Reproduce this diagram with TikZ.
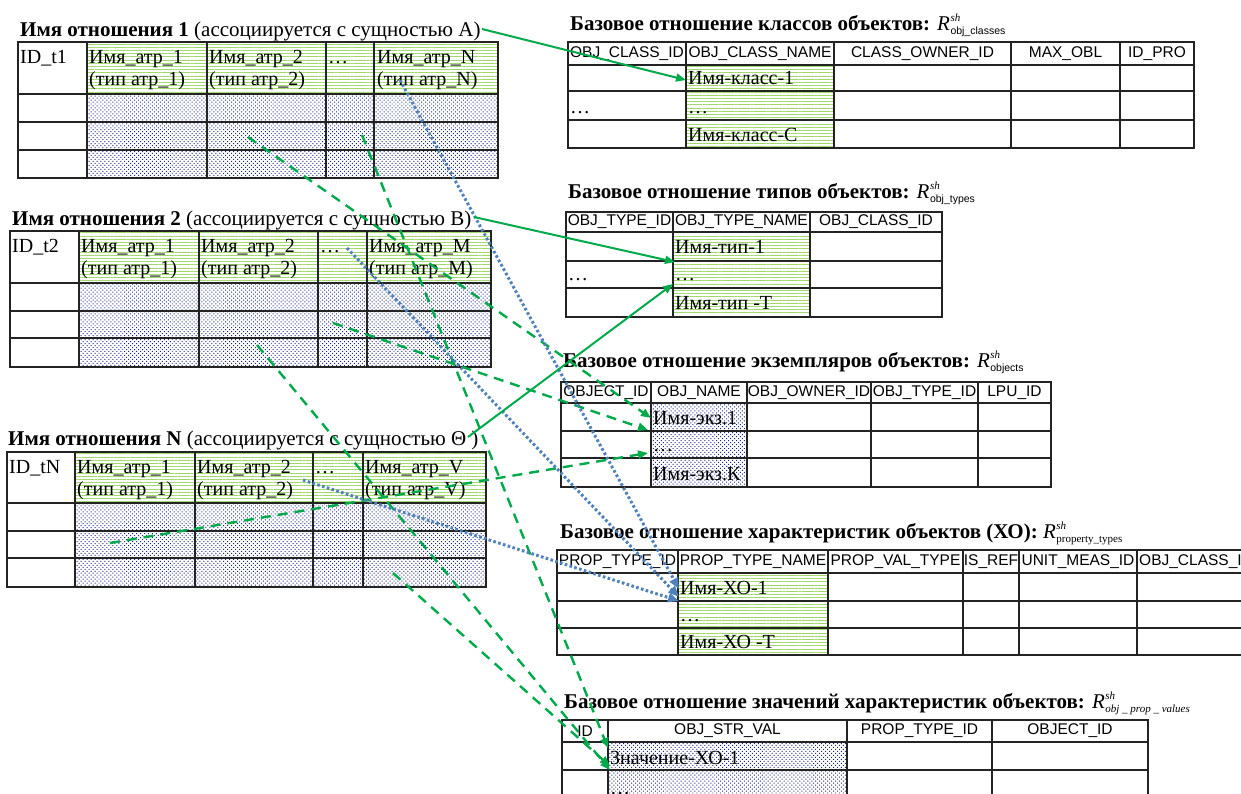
\documentclass[tikz,border=0pt]{standalone}
\usepackage{fontspec}
\setmainfont{Liberation Serif}
\setsansfont{Liberation Sans}
\usepackage{graphicx}
\usetikzlibrary{arrows.meta,patterns.meta}
\definecolor{stripegreen}{RGB}{160,216,105}
\definecolor{dotblue}{RGB}{30,40,120}
\definecolor{arrgreen}{RGB}{0,170,75}
\definecolor{arrblue}{RGB}{79,129,189}
\definecolor{gridc}{RGB}{35,35,35}
\tikzset{
 gridline/.style={line width=1.4pt, draw=gridc, line cap=rect},
 stripes/.style={pattern={Lines[angle=0,distance=3.2pt,line width=1pt]}, pattern color=stripegreen},
 dotsfill/.style={pattern={Dots[angle=45,distance=2.8pt,radius=0.7pt]}, pattern color=dotblue},
 lbl/.style={inner sep=0pt, anchor=base west, font=\fontsize{20}{22}\selectfont},
 ttl/.style={inner sep=0pt, anchor=base west, font=\fontsize{21}{24}\selectfont},
 hdr/.style={inner sep=0pt, anchor=center, font=\sffamily\fontsize{15.5}{17}\selectfont},
 solidarrow/.style={draw=arrgreen, line width=2pt, -{Triangle[length=10pt,width=8pt]}, arrgreen},
 dasharrow/.style={draw=arrgreen, line width=2.4pt, dash pattern=on 10pt off 7pt, -{Triangle[length=10pt,width=8pt]}, arrgreen},
 dotarrow/.style={draw=arrblue, line width=3pt, dash pattern=on 2.6pt off 2.4pt, -{Triangle[length=11pt,width=9pt]}, arrblue},
}
\newcommand\mygrid[6]{%
 \foreach \xx in {#1} {\draw[gridline] (\xx,#5) -- (\xx,#6);}%
 \foreach \yy in {#2} {\draw[gridline] (#3,\yy) -- (#4,\yy);}%
}
\newcommand\Rsans[1]{{\itshape R}\kern0.5pt\rlap{\raisebox{9pt}{\fontsize{11}{11}\selectfont\itshape sh}}\raisebox{-4.5pt}{\fontsize{10.5}{11}\selectfont\sffamily #1}}
\newcommand\Rserif[1]{{\itshape R}\kern0.5pt\rlap{\raisebox{9pt}{\fontsize{11}{11}\selectfont\itshape sh}}\raisebox{-4.5pt}{\fontsize{11}{11}\selectfont #1}}
\newcommand\Rital[1]{{\itshape R}\kern0.5pt\rlap{\raisebox{9pt}{\fontsize{11}{11}\selectfont\itshape sh}}\raisebox{-4.5pt}{\fontsize{11}{11}\selectfont\itshape #1}}
\begin{document}
\begin{tikzpicture}[x=1pt,y=-1pt]
\useasboundingbox (0,0) rectangle (1241,793);
\clip (0,0) rectangle (1241,793);
\fill[white] (0,0) rectangle (1241,793);

% ---------- Table 1 ----------
\fill[stripes] (87,42) rectangle (498,94);
\fill[dotsfill] (87,94) rectangle (498,178);
\mygrid{18,87,207,326,374,498}{42,94,122,150,178}{18}{498}{42}{178}
\node[ttl] (t1title) at (20,36) {\textbf{Имя отношения 1} (ассоциируется с сущностью А)};
\node[lbl] (t1id) at (20,63) {ID\_t1};
\node[lbl] (t1a1) at (89,63) {Имя\_атр\_1};
\node[lbl] (t1b1) at (89,85) {(тип атр\_1)};
\node[lbl] (t1a2) at (209,63) {Имя\_атр\_2};
\node[lbl] (t1b2) at (209,85) {(тип атр\_2)};
\node[lbl] (t1dots) at (328,63) {…};
\node[lbl] (t1aN) at (377,63) {Имя\_атр\_N};
\node[lbl] (t1bN) at (377,85) {(тип атр\_N)};

% ---------- Table 2 ----------
\fill[stripes] (79,231) rectangle (491,283);
\fill[dotsfill] (79,283) rectangle (491,367);
\mygrid{10,79,199,318,367,491}{231,283,311,338,367}{10}{491}{231}{367}
\node[ttl] (t2title) at (12,225) {\textbf{Имя отношения 2} (ассоциируется с сущностью В)};
\node[lbl] (t2id) at (12,252) {ID\_t2};
\node[lbl] (t2a1) at (81,252) {Имя\_атр\_1};
\node[lbl] (t2b1) at (81,274) {(тип атр\_1)};
\node[lbl] (t2a2) at (201,252) {Имя\_атр\_2};
\node[lbl] (t2b2) at (201,274) {(тип атр\_2)};
\node[lbl] (t2dots) at (320,252) {…};
\node[lbl] (t2aM) at (369,252) {Имя\_атр\_M};
\node[lbl] (t2bM) at (369,274) {(тип атр\_M)};

% ---------- Table N ----------
\fill[stripes] (75,452) rectangle (486,503);
\fill[dotsfill] (75,503) rectangle (486,587);
\mygrid{7,75,195,313,363,486}{452,503,531,558,587}{7}{486}{452}{587}
\node[ttl] (tNtitle) at (8,445) {\textbf{Имя отношения N} (ассоциируется с сущностью Θ )};
\node[lbl] (tNid) at (9,473) {ID\_tN};
\node[lbl] (tNa1) at (77,473) {Имя\_атр\_1};
\node[lbl] (tNb1) at (77,495) {(тип атр\_1)};
\node[lbl] (tNa2) at (197,473) {Имя\_атр\_2};
\node[lbl] (tNb2) at (197,495) {(тип атр\_2)};
\node[lbl] (tNdots) at (315,473) {…};
\node[lbl] (tNaV) at (365,473) {Имя\_атр\_V};
\node[lbl] (tNbV) at (365,495) {(тип атр\_V)};

% ---------- R1 obj_classes ----------
\fill[stripes] (686,65) rectangle (834,148);
\mygrid{568,686,834,1011,1120,1194}{42,65,91,120,148}{568}{1194}{42}{148}
\node[ttl] (r1title) at (570,30) {\textbf{Базовое отношение классов объектов:} \Rsans{obj\_classes}};
\node[hdr] (r1h1) at (627,54) {OBJ\_CLASS\_ID};
\node[hdr] (r1h2) at (760,54) {OBJ\_CLASS\_NAME};
\node[hdr] (r1h3) at (922.5,54) {CLASS\_OWNER\_ID};
\node[hdr] (r1h4) at (1065.5,54) {MAX\_OBL};
\node[hdr] (r1h5) at (1157,54) {ID\_PRO};
\node[lbl] (r1c1) at (688,84) {Имя-класс-1};
\node[lbl] (r1c2) at (688,113) {…};
\node[lbl] (r1c3) at (688,141) {Имя-класс-С};
\node[lbl] (r1d) at (570,113) {…};

% ---------- R2 obj_types ----------
\fill[stripes] (673,232) rectangle (810,317);
\mygrid{566,673,810,942}{212,232,261,288,317}{566}{942}{212}{317}
\node[ttl] (r2title) at (568,198) {\textbf{Базовое отношение типов объектов:} \Rsans{obj\_types}};
\node[hdr] (r2h1) at (619.5,222) {OBJ\_TYPE\_ID};
\node[hdr] (r2h2) at (741.5,222) {OBJ\_TYPE\_NAME};
\node[hdr] (r2h3) at (876,222) {OBJ\_CLASS\_ID};
\node[lbl] (r2c1) at (675,253) {Имя-тип-1};
\node[lbl] (r2c2) at (675,280) {…};
\node[lbl] (r2c3) at (675,309) {Имя-тип -Т};
\node[lbl] (r2d) at (568,280) {…};

% ---------- R3 objects ----------
\fill[dotsfill] (651,403) rectangle (747,487);
\mygrid{561,651,747,871,978,1051}{382,403,431,458,487}{561}{1051}{382}{487}
\node[ttl] (r3title) at (563,367) {\textbf{Базовое отношение экземпляров объектов:} \Rsans{objects}};
\node[hdr] (r3h1) at (606,392.5) {OBJECT\_ID};
\node[hdr] (r3h2) at (699,392.5) {OBJ\_NAME};
\node[hdr] (r3h3) at (809,392.5) {OBJ\_OWNER\_ID};
\node[hdr] (r3h4) at (924.5,392.5) {OBJ\_TYPE\_ID};
\node[hdr] (r3h5) at (1014.5,392.5) {LPU\_ID};
\node[lbl] (r3c1) at (653,424) {Имя-экз.1};
\node[lbl] (r3c2) at (653,451) {…};
\node[lbl] (r3c3) at (653,480) {Имя-экз.К};

% ---------- R4 property_types ----------
\fill[stripes] (678,573) rectangle (828,655);
\mygrid{557,678,828,963,1019,1137}{550,573,601,628,655}{557}{1260}{550}{655}
\node[ttl] (r4title) at (560,538) {\textbf{Базовое отношение характеристик объектов (ХО):} \Rserif{property\_types}};
\node[hdr] (r4h1) at (617.5,561.5) {PROP\_TYPE\_ID};
\node[hdr] (r4h2) at (753,561.5) {PROP\_TYPE\_NAME};
\node[hdr] (r4h3) at (895.5,561.5) {PROP\_VAL\_TYPE};
\node[hdr] (r4h4) at (991,561.5) {IS\_REF};
\node[hdr] (r4h5) at (1078,561.5) {UNIT\_MEAS\_ID};
\node[hdr,anchor=west] (r4h6) at (1139,561.5) {OBJ\_CLASS\_ID};
\node[lbl] (r4c1) at (680,594) {Имя-ХО-1};
\node[lbl] (r4c2) at (680,621) {…};
\node[lbl] (r4c3) at (680,648) {Имя-ХО -Т};

% ---------- R5 obj_prop_values ----------
\fill[dotsfill] (608,742) rectangle (847,800);
\mygrid{562,608,847,992,1148}{720,742,770}{562}{1148}{720}{800}
\node[ttl] (r5title) at (564,708) {\textbf{Базовое отношение значений характеристик объектов:} \Rital{obj \_ prop \_ values}};
\node[hdr] (r5h1) at (585,731) {ID};
\node[hdr] (r5h2) at (727.5,731) {OBJ\_STR\_VAL};
\node[hdr] (r5h3) at (919.5,731) {PROP\_TYPE\_ID};
\node[hdr] (r5h4) at (1070,731) {OBJECT\_ID};
\node[lbl] (r5c1) at (610,764) {Значение-ХО-1};
\node[lbl] (r5c2) at (610,794) {…};

% ---------- connector end points ----------
\coordinate (s1) at (482,29);   \coordinate (e1) at (686,80);
\coordinate (s2) at (474,217);  \coordinate (e2) at (675,262);
\coordinate (s3) at (468,437);  \coordinate (e3) at (673,284);
\coordinate (d1s) at (248,137); \coordinate (d1e) at (651,418);
\coordinate (d2s) at (362,135); \coordinate (d2e) at (608,748);
\coordinate (d3s) at (333,323); \coordinate (d3e) at (648,430);
\coordinate (d4s) at (257,345); \coordinate (d4e) at (610,770);
\coordinate (d5s) at (110,543); \coordinate (d5e) at (648,453);
\coordinate (d6s) at (393,573); \coordinate (d6e) at (610,766);
\coordinate (b1s) at (400,80);  \coordinate (b1e) at (679,589);
\coordinate (b2s) at (347,248); \coordinate (b2e) at (679,597);
\coordinate (b3s) at (303,480); \coordinate (b3e) at (679,601);

% ---------- connectors ----------
\draw[dasharrow] (d1s) -- (d1e);
\draw[dasharrow] (d2s) -- (d2e);
\draw[dasharrow] (d3s) -- (d3e);
\draw[dasharrow] (d4s) -- (d4e);
\draw[dasharrow] (d5s) -- (d5e);
\draw[dasharrow] (d6s) -- (d6e);
\draw[dotarrow] (b1s) -- (b1e);
\draw[dotarrow] (b2s) -- (b2e);
\draw[dotarrow] (b3s) -- (b3e);
\draw[solidarrow] (s1) -- (e1);
\draw[solidarrow] (s2) -- (e2);
\draw[solidarrow] (s3) -- (e3);
\end{tikzpicture}
\end{document}
